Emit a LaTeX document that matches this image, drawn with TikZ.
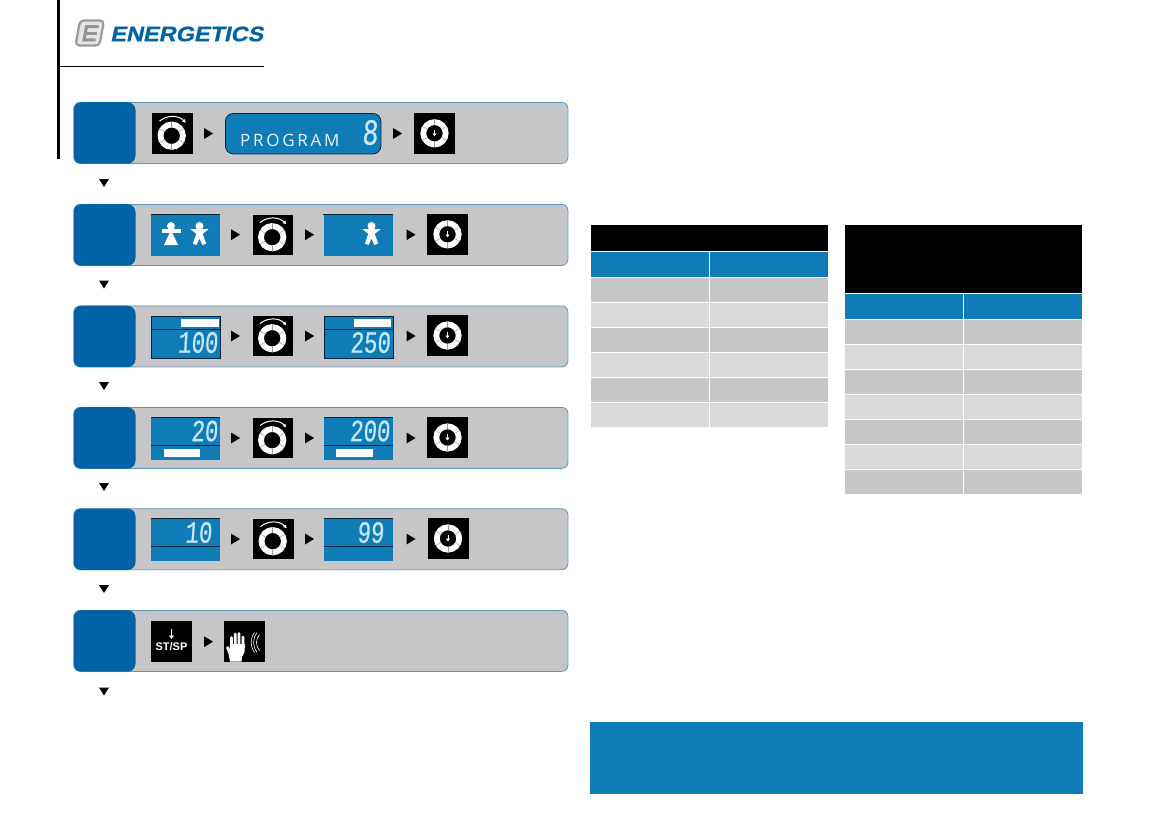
\documentclass[tikz,border=0pt]{standalone}
\usepackage{fontspec}
\setmainfont{Open Sans}
\newfontfamily\segfont[FakeStretch=.72,FakeSlant=.07,FakeBold=.6]{Liberation Mono}
\newfontfamily\logofont[FakeStretch=1.12,FakeSlant=.22,FakeBold=.8]{Liberation Sans Bold}
\newfontfamily\stfont{Liberation Sans Bold}
\definecolor{paneldark}{HTML}{0062A7}
\definecolor{lcd}{HTML}{0F7CB7}
\definecolor{panelgrey}{HTML}{C6C6C8}
\definecolor{rowlight}{HTML}{D8D9DA}
\definecolor{edge}{HTML}{5E97BC}
\definecolor{seg}{HTML}{C4E6F7}
\definecolor{ringgap}{HTML}{9A9A9A}
\usetikzlibrary{arrows.meta}
\tikzset{
  panelbox/.style={draw=edge,line width=.8pt,fill=panelgrey,rounded corners=6pt,anchor=north west,inner sep=0pt,minimum width=494pt,minimum height=61pt},
  numbox/.style={fill=paneldark,rounded corners=8pt,anchor=north west,inner sep=0pt,minimum width=62pt,minimum height=61.5pt},
  lcdbox/.style={fill=lcd,anchor=north west,inner sep=0pt,minimum width=69pt,minimum height=42pt},
  segtext/.style={anchor=east,text=seg,inner sep=0pt,font=\segfont\fontsize{31}{31}\selectfont},
  pics/tright/.style={code={\fill[black,x=1pt,y=1pt] (-4.5,5.5)--(4.5,0)--(-4.5,-5.5)--cycle;}},
  pics/tdown/.style={code={\fill[black,x=1pt,y=1pt] (-5,4)--(5,4)--(0,-4)--cycle;}},
  pics/ring/.style={code={
    \begin{scope}[x=1pt,y=1pt]
    \draw[white,line width=5.8pt] (0,0) circle[radius=11.2pt];
    \foreach \a in {30,90,150,210,270,330}{\draw[ringgap,line width=.5pt] (\a:8.4)--(\a:14);}
    \end{scope}}},
  pics/dial/.style={code={
    \begin{scope}[x=1pt,y=1pt]
    \fill[black] (-20,-20) rectangle (20.5,20.5);
    \pic at (-.3,-2.2) {ring};
    \draw[white,line width=1pt,-{Latex[length=3.5pt,width=3.8pt]}] (-12.5,12.4) arc[start angle=130,end angle=42,radius=19pt];
    \end{scope}}},
  pics/press/.style={code={
    \begin{scope}[x=1pt,y=1pt]
    \fill[black] (-20.5,-20.5) rectangle (20.5,20.5);
    \pic at (0,0) {ring};
    \draw[white,line width=.8pt,-{Latex[length=2.8pt,width=4.5pt]}] (0,3.2) -- (0,-3);
    \end{scope}}},
  pics/woman/.style={code={
    \begin{scope}[x=1pt,y=1pt]
    \fill[white] (0,9) circle[radius=4pt];
    \fill[white] (-9.5,5.8) rectangle (9.5,2.4);
    \fill[white] (0,5) -- (7,-10) -- (-7,-10) -- cycle;
    \end{scope}}},
  pics/man/.style={code={
    \begin{scope}[x=1pt,y=1pt]
    \fill[white] (0,9) circle[radius=4pt];
    \fill[white] (-9,5.8) -- (9,5.8) -- (3.2,1.2) -- (6.6,-8.5) -- (3,-10) -- (0,-3.5) -- (-3,-10) -- (-6.6,-8.5) -- (-3.2,1.2) -- cycle;
    \end{scope}}},
}
\begin{document}
\begin{tikzpicture}[x=1pt,y=-1pt]
\useasboundingbox (0,0) rectangle (1157,839);
% page rules
\fill[black] (57,0) rectangle (60,158.7);
\draw[black,line width=.9pt] (60,66.3) -- (263.5,66.3);
% logo
\draw[draw=black!40,fill=black!10,line width=2.2pt,rounded corners=4pt] (80,20.5)--(104,20.5)--(99.5,45.5)--(75.5,45.5)--cycle;
\draw[black!42,line width=3pt] (98.5,26.5)--(86.5,26.5)--(84,39.8)--(95.5,39.8);
\draw[black!42,line width=3pt] (85.5,33.2)--(97,33.2);
\node[anchor=west,inner sep=0pt,text=paneldark,font=\logofont\fontsize{21}{22}\selectfont] (logo) at (110,34) {ENERGETICS};
% panels
\foreach \n/\y in {1/102,2/204,3/305.5,4/407,5/508.3,6/610}{
  \node[panelbox] (panel\n) at (73.5,\y) {};
  \node[numbox] (num\n) at (73.3,\y) {};
}
% down markers
\foreach \n/\y in {1/183,2/284.5,3/386,4/487,5/589,6/691.5}{\pic (down\n) at (104,\y) {tdown};}
% row 1
\pic (dialA) at (172,133.5) {dial};
\pic at (208.5,133.5) {tright};
\node[draw=black!70!lcd,line width=.8pt,fill=lcd,rounded corners=8pt,anchor=north west,inner sep=0pt,minimum width=155.5pt,minimum height=40.5pt] (prog) at (225,113) {};
\node[anchor=base west,inner sep=0pt,font=\fontsize{17}{17}\selectfont,text=white!92!lcd] (progtext) at (240,146.5) {\addfontfeature{LetterSpace=16}PROGRAM};
\node[segtext,font=\segfont\fontsize{37}{37}\selectfont] (progdigit) at (378,132.5) {8};
\pic at (397.5,133.5) {tright};
\pic (pressA) at (434.5,133.3) {press};
% row 2
\node[lcdbox] (coupleA) at (151,214) {};
\draw[black!70!lcd,line width=.7pt] (coupleA.north west)--(coupleA.north east);
\pic at (171,235) {woman};
\pic at (199.5,235) {man};
\pic at (235.5,234.7) {tright};
\pic (dialB) at (272.5,235) {dial};
\pic at (309.5,234.7) {tright};
\node[lcdbox] (coupleB) at (323.3,214) {};
\draw[black!70!lcd,line width=.7pt] (coupleB.north west)--(coupleB.north east);
\pic at (371.5,235) {man};
\pic at (411,234.7) {tright};
\pic (pressB) at (447.5,234.3) {press};
% row 3
\foreach \n/\x/\w in {C/151/181,D/323.5/354}{
  \node[lcdbox,draw=black!70!lcd,line width=.7pt] (box\n) at (\x,315.5) {};
  \draw[black!70!lcd,line width=.7pt] (\x,329.3)--(\x+69,329.3);
  \fill[white] (\w,319) rectangle (\x+67.5,327.3);
}
\node[segtext] at (218,342.5) (v100) {100};
\node[segtext] at (390.5,342.5) (v250) {250};
\pic at (235.5,336) {tright};
\pic (dialC) at (272.5,336) {dial};
\pic at (309.5,336) {tright};
\pic at (411,336) {tright};
\pic (pressC) at (447.5,335.5) {press};
% row 4
\foreach \n/\x/\a/\b in {E/151/164/200,F/323.5/336/373}{
  \node[lcdbox] (box\n) at (\x,417.3) {};
  \draw[black!70!lcd,line width=.7pt] (\x,417.3)--(\x+69,417.3) (\x,445)--(\x+69,445);
  \fill[white] (\a,449.3) rectangle (\b,457);
}
\node[segtext] at (218,431) (v20) {20};
\node[segtext] at (390,431) (v200) {200};
\pic at (235.5,438) {tright};
\pic (dialD) at (272.5,438) {dial};
\pic at (309.5,438) {tright};
\pic at (411,438) {tright};
\pic (pressD) at (447.5,437.5) {press};
% row 5
\foreach \n/\x in {G/151,H/323.5}{
  \node[lcdbox] (box\n) at (\x,518.3) {};
  \draw[black!70!lcd,line width=.7pt] (\x,518.3)--(\x+69,518.3) (\x,546)--(\x+69,546);
}
\node[segtext] at (212,532.5) (v10) {10};
\node[segtext] at (384,532.5) (v99) {99};
\pic at (235.5,539) {tright};
\pic (dialE) at (273,539) {dial};
\pic at (309.5,539) {tright};
\pic at (411,539) {tright};
\pic (pressE) at (448,538.5) {press};
% row 6
\fill[black] (151,621) rectangle (192,661.7);
\node[text=white,inner sep=0pt,font=\stfont\fontsize{11}{11}\selectfont] (stsp) at (171.5,647) {ST/SP};
\draw[white,line width=1.3pt,-{Latex[length=3.5pt,width=6pt]}] (171.5,629) -- (171.5,639);
\pic at (208.5,641.7) {tright};
\fill[black] (224,621) rectangle (265,661.7);
\fill[white] (230,644)--(245,644)--(244.5,652)--(242,657)--(241.5,661.7)--(230,661.7)--(229,656)--cycle;
\draw[white,line width=2.8pt,line cap=round] (231.5,648)--(231.5,637.5) (235.2,648)--(235.2,634) (238.9,648)--(238.9,633.5) (243,648)--(243,637) (227.5,647.5)--(230.5,655);
\draw[white,line width=.6pt] (254.5,632.5) .. controls (250,638) and (250,646) .. (254.5,652.5);
\draw[white,line width=.6pt] (257,632.5) .. controls (252.5,638) and (252.5,646) .. (257,652.5);
\draw[white,line width=.6pt] (259.5,634.5) .. controls (255.5,639) and (255.5,646) .. (259.5,650.5);
% table 1
\fill[black] (591,225) rectangle (828,250.7);
\fill[lcd] (591,251.7) rectangle (709,277);
\fill[lcd] (710,251.7) rectangle (828,277);
\foreach \i/\y/\c in {1/278/panelgrey,2/303/rowlight,3/328/panelgrey,4/353/rowlight,5/378/panelgrey,6/403/rowlight}{
  \fill[\c] (591,\y) rectangle (709,\y+24);
  \fill[\c] (710,\y) rectangle (828,\y+24);
}
% table 2
\fill[black] (845,225) rectangle (1082,292.7);
\fill[lcd] (845,294) rectangle (963,319);
\fill[lcd] (964,294) rectangle (1082,319);
\foreach \i/\y/\c in {1/320/panelgrey,2/345/rowlight,3/370/panelgrey,4/395/rowlight,5/420/panelgrey,6/445/rowlight,7/470/panelgrey}{
  \fill[\c] (845,\y) rectangle (963,\y+24);
  \fill[\c] (964,\y) rectangle (1082,\y+24);
}
% note band
\fill[lcd] (590,722) rectangle (1083,794);
\end{tikzpicture}
\end{document}
